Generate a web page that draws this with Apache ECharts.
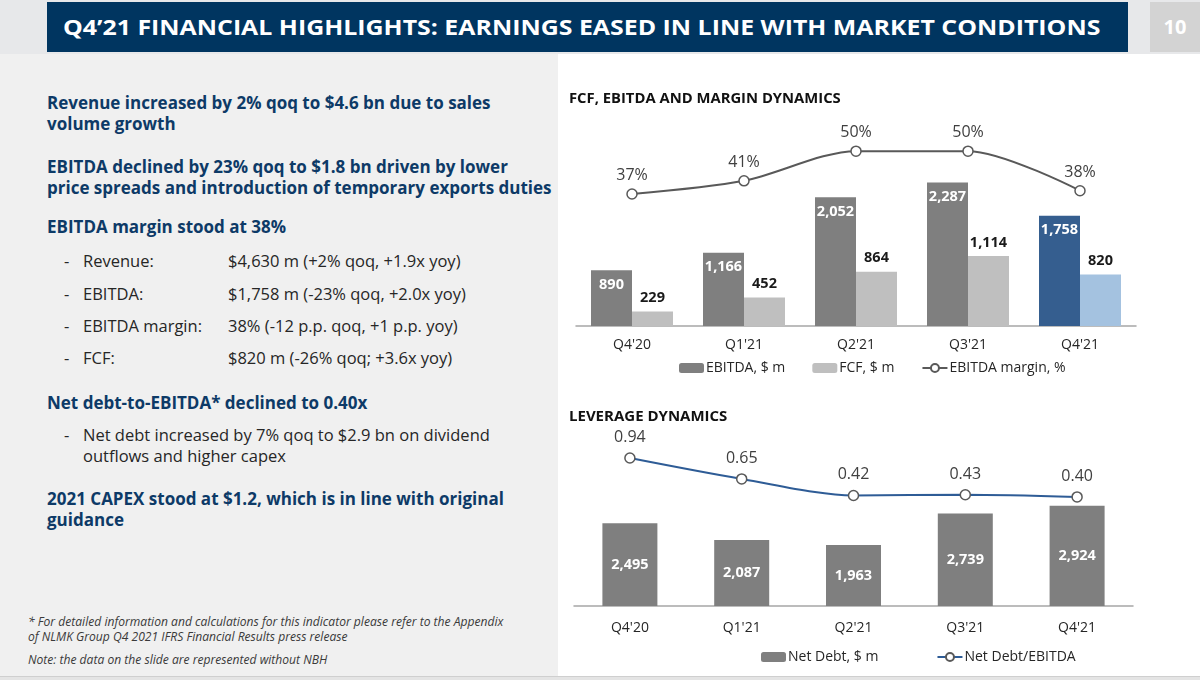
<!DOCTYPE html>
<html>
<head>
<meta charset="utf-8">
<script src="https://cdn.jsdelivr.net/npm/echarts@6/dist/echarts.min.js"></script>
<style>
  html, body { margin: 0; padding: 0; }
  body { width: 1200px; height: 680px; overflow: hidden; background: #fff; position: relative; font-family: "Open Sans", "Noto Sans", sans-serif; }
  .abs { position: absolute; white-space: nowrap; }
  #hdr { left: 0; top: 0; width: 1200px; height: 54px; background: #e7e8ea; }
  #bar { left: 47px; top: 2px; width: 1081px; height: 50px; background: #003560; }
  #ttl { left: 63px; top: 9px; color: #fff; font-weight: 700; font-size: 22px; line-height: 34px; transform-origin: 0 50%; }
  #pg { left: 1150px; top: 2px; width: 50px; height: 50px; background: #d3d3d3; color: #fff; font-weight: 700; font-size: 20px; line-height: 50px; text-align: center; }
  #left { left: 0; top: 54px; width: 558px; height: 622px; background: #f0f0f0; }
  #foot { left: 0; top: 676px; width: 1200px; height: 4px; background: #e4e4e4; border-top: 1px solid #cfcfcf; }
  .h { color: #0d3a67; font-weight: 700; font-size: 17px; line-height: 21px; left: 47px; }
  .b { color: #262626; font-size: 16.5px; line-height: 21px; }
  .fn { color: #3a3a3a; font-style: italic; font-size: 12.1px; line-height: 15px; left: 28px; }
  #chart { position: absolute; left: 560px; top: 54px; width: 640px; height: 622px; }
</style>
</head>
<body>
<div id="hdr" class="abs"></div>
<div id="bar" class="abs"></div>
<div id="ttl" class="abs">Q4’21 FINANCIAL HIGHLIGHTS: EARNINGS EASED IN LINE WITH MARKET CONDITIONS</div>
<div id="pg" class="abs">10</div>
<div id="left" class="abs"></div>
<div id="foot" class="abs"></div>

<div class="abs h" style="top:92px">Revenue increased by 2% qoq to $4.6 bn due to sales<br>volume growth</div>
<div class="abs h" style="top:156px">EBITDA declined by 23% qoq to $1.8 bn driven by lower<br>price spreads and introduction of temporary exports duties</div>
<div class="abs h" style="top:216px">EBITDA margin stood at 38%</div>

<div class="abs b" style="left:64px;top:250px">-</div><div class="abs b" style="left:83px;top:250px">Revenue:</div><div class="abs b" style="left:228px;top:250px">$4,630 m (+2% qoq, +1.9x yoy)</div>
<div class="abs b" style="left:64px;top:283px">-</div><div class="abs b" style="left:83px;top:283px">EBITDA:</div><div class="abs b" style="left:228px;top:283px">$1,758 m (-23% qoq, +2.0x yoy)</div>
<div class="abs b" style="left:64px;top:315px">-</div><div class="abs b" style="left:83px;top:315px">EBITDA margin:</div><div class="abs b" style="left:228px;top:315px">38% (-12 p.p. qoq, +1 p.p. yoy)</div>
<div class="abs b" style="left:64px;top:347px">-</div><div class="abs b" style="left:83px;top:347px">FCF:</div><div class="abs b" style="left:228px;top:347px">$820 m (-26% qoq; +3.6x yoy)</div>

<div class="abs h" style="top:392px">Net debt-to-EBITDA* declined to 0.40x</div>
<div class="abs b" style="left:64px;top:424px">-</div><div class="abs b" style="left:83px;top:424px">Net debt increased by 7% qoq to $2.9 bn on dividend<br>outflows and higher capex</div>
<div class="abs h" style="top:488px">2021 CAPEX stood at $1.2, which is in line with original<br>guidance</div>

<div class="abs fn" style="top:614px">* For detailed information and calculations for this indicator please refer to the Appendix<br>of NLMK Group Q4 2021 IFRS Financial Results press release</div>
<div class="abs fn" style="top:652px">Note: the data on the slide are represented without NBH</div>

<div id="chart"></div>

<script>
// title is condensed in the original, squeeze it to the same width
const ttl = document.getElementById('ttl');
ttl.style.transform = 'scaleX(' + (1037 / ttl.offsetWidth) + ')';

// data
const quarters = ["Q4'20", "Q1'21", "Q2'21", "Q3'21", "Q4'21"];
const ebitda = [890, 1166, 2052, 2287, 1758];
const fcf = [229, 452, 864, 1114, 820];
const margin = [37, 41, 50, 50, 38];
const netDebt = [2495, 2087, 1963, 2739, 2924];
const debtRatio = [0.94, 0.65, 0.42, 0.43, 0.40];
const current = 4; // last quarter is highlighted in blue

const FONT = '"Open Sans", "Noto Sans", sans-serif';
const fmt = v => v.toLocaleString('en-US');

const axisX = grid => ({
    type: 'category', gridIndex: grid, data: quarters,
    axisTick: { show: false },
    axisLine: { onZero: false, lineStyle: { color: '#a6a6a6', width: 1.5 } },
    axisLabel: { color: '#262626', fontSize: 14, fontFamily: FONT, margin: grid === 0 ? 12 : 15 }
});

const chart = echarts.init(document.getElementById('chart'));
chart.setOption({
    animation: false,
    textStyle: { fontFamily: FONT },
    title: [
        { text: 'FCF, EBITDA AND MARGIN DYNAMICS', left: 4, top: 32,
          textStyle: { fontSize: 14.8, fontWeight: 'bold', color: '#111', fontFamily: FONT } },
        { text: 'LEVERAGE DYNAMICS', left: 4, top: 350,
          textStyle: { fontSize: 15, fontWeight: 'bold', color: '#111', fontFamily: FONT } }
    ],
    legend: [
        { data: ['EBITDA, $ m', 'FCF, $ m', 'EBITDA margin, %'], left: 114, top: 302,
          itemWidth: 25, itemHeight: 10, itemGap: 27,
          textStyle: { fontSize: 14, color: '#262626', fontFamily: FONT, padding: [0, 0, 0, -3] } },
        { data: ['Net Debt, $ m', 'Net Debt/EBITDA'], left: 196, top: 591,
          itemWidth: 25, itemHeight: 10, itemGap: 58,
          textStyle: { fontSize: 14, color: '#262626', fontFamily: FONT, padding: [0, 0, 0, -3] } }
    ],
    grid: [
        { left: 16, width: 560, top: 46, height: 226 },
        { left: 14, width: 559, top: 386, height: 166 }
    ],
    xAxis: [axisX(0), axisX(1)],
    yAxis: [
        { type: 'value', gridIndex: 0, min: 0, max: 3600, show: false },
        { type: 'value', gridIndex: 0, min: -3, max: 65.5, show: false },
        { type: 'value', gridIndex: 1, min: 460, max: 4545, show: false },
        { type: 'value', gridIndex: 1, min: -1.114, max: 1.19, show: false }
    ],
    series: [
        {
            name: 'EBITDA, $ m', type: 'bar', xAxisIndex: 0, yAxisIndex: 0,
            barWidth: 41, barGap: '0%',
            itemStyle: { color: '#7f7f7f' },
            data: ebitda.map((v, i) => i === current ? { value: v, itemStyle: { color: '#355e8f' } } : v),
            label: { show: true, position: 'insideTop', distance: 7, color: '#fff', fontWeight: 'bold',
                     fontSize: 14.5, formatter: p => fmt(p.value) }
        },
        {
            name: 'FCF, $ m', type: 'bar', xAxisIndex: 0, yAxisIndex: 0,
            barWidth: 41, barGap: '0%',
            itemStyle: { color: '#bfbfbf' },
            data: fcf.map((v, i) => i === current ? { value: v, itemStyle: { color: '#a4c2e0' } } : v),
            label: { show: true, position: 'top', distance: 6, color: '#1a1a1a', fontWeight: 'bold',
                     fontSize: 14.5, formatter: p => fmt(p.value) }
        },
        {
            name: 'EBITDA margin, %', type: 'line', xAxisIndex: 0, yAxisIndex: 1,
            data: margin, smooth: 0.3,
            symbol: 'circle', symbolSize: 10,
            lineStyle: { color: '#595959', width: 2 },
            itemStyle: { color: '#fff', borderColor: '#595959', borderWidth: 1.5 },
            label: { show: true, position: 'top', distance: 5, color: '#404040', fontSize: 16, formatter: '{c}%' }
        },
        {
            name: 'Net Debt, $ m', type: 'bar', xAxisIndex: 1, yAxisIndex: 2,
            barWidth: 55,
            itemStyle: { color: '#7f7f7f' },
            data: netDebt,
            label: { show: true, position: 'inside', color: '#fff', fontWeight: 'bold',
                     fontSize: 14.5, formatter: p => fmt(p.value) }
        },
        {
            name: 'Net Debt/EBITDA', type: 'line', xAxisIndex: 1, yAxisIndex: 3,
            data: debtRatio, smooth: 0.3,
            symbol: 'circle', symbolSize: 10,
            lineStyle: { color: '#2e5c96', width: 2 },
            itemStyle: { color: '#fff', borderColor: '#595959', borderWidth: 1.5 },
            label: { show: true, position: 'top', distance: 7, color: '#404040', fontSize: 16,
                     formatter: p => p.value.toFixed(2) }
        }
    ]
});
</script>
</body>
</html>
